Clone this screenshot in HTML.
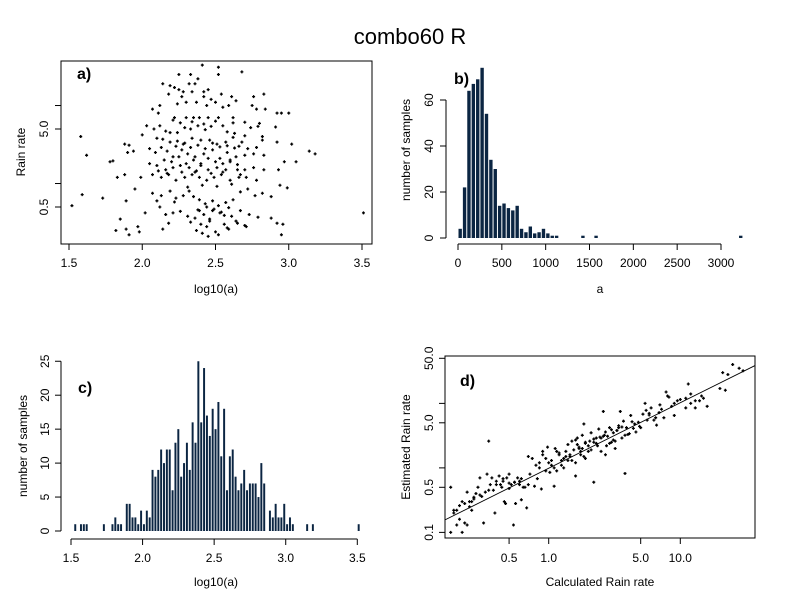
<!DOCTYPE html>
<html><head><meta charset="utf-8"><style>
html,body{margin:0;padding:0;background:#fff;}
svg{display:block;font-family:"Liberation Sans",sans-serif;}
</style></head><body>
<svg id="chart" width="792" height="611" viewBox="0 0 792 611">
<text x="410" y="44" font-size="22" text-anchor="middle">combo60 R</text>
</svg>
<script>
// Panel a: scatter log10(a) vs rain rate
const scatterALog = [1.52,1.85,1.82,1.89,1.91,1.97,2.02,2.16,2.21,2.26,2.31,2.33,2.38,2.40,2.42,2.44,2.46,2.48,2.50,2.53,2.56,2.58,2.61,2.64,2.67,2.70,2.73,2.79,2.88,2.92,2.96,2.95,3.51,2.14,2.18,2.37,2.41,2.45,2.52,2.59,2.65,2.71,1.98,
1.59,1.73,1.89,1.95,2.07,2.10,2.13,2.19,2.23,2.28,2.32,2.35,2.39,2.43,2.48,2.52,2.57,2.62,2.67,2.72,2.77,2.82,2.88,2.94,2.99,2.12,2.22,
1.78,1.80,2.05,2.10,2.16,2.21,2.26,2.32,2.36,2.40,2.45,2.51,2.55,2.60,2.65,2.70,2.76,2.83,2.93,2.97,3.05,1.88,1.83,1.99,2.07,2.13,2.18,2.23,2.29,2.34,2.39,2.44,2.49,2.54,2.60,2.66,2.71,2.78,
2.03,2.08,2.12,2.16,2.19,2.24,2.29,2.33,2.38,2.43,2.47,2.55,2.58,2.63,2.70,2.74,2.79,2.82,2.91,1.58,2.00,2.10,2.14,2.19,2.24,2.29,2.34,2.40,2.46,2.51,2.57,2.62,2.66,2.72,2.78,2.82,2.92,3.02,1.88,1.91,1.90,1.94,1.62,2.05,2.09,2.13,2.17,2.21,2.27,2.31,2.36,2.42,2.48,2.53,2.58,2.64,2.70,2.76,2.83,3.14,3.18,
2.41,2.52,2.68,2.25,2.33,2.52,2.38,2.14,2.19,2.22,2.32,2.36,2.25,2.28,2.34,2.42,2.45,2.54,2.61,2.76,2.83,2.18,2.27,2.42,2.50,2.37,2.12,2.44,2.59,2.75,2.78,2.84,2.07,2.11,2.22,2.30,2.35,2.39,2.45,2.52,2.62,2.92,2.95,3.00,
2.15,2.20,2.25,2.30,2.35,2.40,2.45,2.50,2.55,2.60,2.65,2.23,2.28,2.33,2.38,2.43,2.48,2.53,2.58,2.63,2.68,2.11,2.17,2.27,2.37,2.47,2.57,2.67,2.31,2.41,2.51,2.61,2.39,2.44,2.49,2.54,2.59,2.36,2.46,2.56,2.26,2.21,2.34,2.42,2.50,2.62,2.70,2.80,2.24,2.30,2.47,2.55,2.64];
const scatterARain = [0.52,0.35,0.25,0.26,0.22,0.28,0.42,0.4,0.42,0.44,0.38,0.32,0.46,0.3,0.4,0.28,0.35,0.45,0.24,0.42,0.3,0.27,0.38,0.33,0.45,0.29,0.4,0.37,0.36,0.31,0.3,0.22,0.42,0.26,0.31,0.25,0.23,0.21,0.22,0.26,0.31,0.28,0.24,
0.72,0.65,0.6,0.85,0.75,0.6,0.7,0.8,0.65,0.7,0.8,0.68,0.62,0.55,0.6,0.52,0.57,0.62,0.78,0.85,0.7,0.75,0.68,0.95,0.88,0.5,0.58,
1.9,1.95,1.8,1.7,1.5,1.6,1.7,1.6,1.4,1.8,1.5,1.6,1.4,1.9,1.5,1.5,1.6,1.5,1.5,1.9,1.9,1.3,1.2,1.2,1.3,1.2,1.3,1.1,1.2,1.3,1.2,1.1,1.2,1.3,1.1,1.2,1.2,1.1,
5.5,5,5.5,4.7,4.5,4.5,5.2,5,5.5,4.9,5.4,5.5,4.6,4.4,4.1,5.2,5.4,4.0,5.3,4.0,4.2,3.8,3.7,3.4,3.5,3.3,3.8,3.6,3.6,3.2,3.4,3.9,3.0,2.8,2.9,3.6,3.4,3.2,3.2,3.1,2.5,2.6,2.3,2.8,2.5,2.9,2.6,2.2,2.7,2.4,2.2,2.4,2.7,2.1,2.5,2.2,2.3,2.4,2.3,2.6,2.4,
33,31,27,25,25,25,22,19,18,17,19,19,16,15,15,15,16,14,13,13,14,14,13,13,11,11,10,10,10,10,9,9,9,8,7,7,7,7,7,7,7,8,8,8,
2.0,1.9,2.2,1.8,2.0,1.7,2.1,1.9,1.8,2.0,1.75,3.0,3.2,2.9,3.1,2.8,3.3,2.95,3.05,2.85,3.4,1.45,1.35,1.4,1.45,1.35,1.5,1.3,0.9,0.95,0.92,0.98,0.45,0.5,0.47,0.43,0.49,0.36,0.33,0.39,6.0,6.5,6.2,5.8,6.3,6.0,6.1,5.9,10.5,11,12,9.5,11.5];
// Panel b: histogram of a (bins of 50)
const histABinStart = [0,50,100,150,200,250,300,350,400,450,500,550,600,650,700,750,800,850,900,950,1000,1050,1100,1400,1550,3200];
const histACounts = [4,22,64,67,69,74,54,34,30,14,15,13,12,14,4,2.5,5,2,2.5,4,2,1,1,1,1,1];
const histATicks = [0,500,1000,1500,2000,2500,3000];
const histAYTicks = [0,20,40,60];
// Panel c: histogram of log10(a), bin width 0.02
const histLogBinIndex = [1,3,4,5,11,14,15,16,17,19,20,21,22,23,24,25,26,27,28,29,30,31,32,33,34,35,36,37,38,39,40,41,42,43,44,45,46,47,48,49,50,51,52,53,54,55,56,57,58,59,60,61,62,63,64,65,66,67,69,70,71,72,73,74,75,76,77,82,84,100];
const histLogCounts = [1,1,1,1,1,1,2,1,1,4,4,2,2,1,3,1,3,2,9,8,9,12,10,12,12,6,13,15,8,10,13,9,16,13,25,16,24,17,14,18,15,19,11,18,6,11,12,8,6,7,9,6,7,7,7,5,10,7,3,2,4,2,2,4,1,2,1,1,1,1];
const logTicks = [1.5,2.0,2.5,3.0,3.5];
const histLogYTicks = [0,5,10,15,20,25];
// Panel d: calculated vs estimated rain rate
const calcRain = [0.18,0.19,0.2,0.21,0.22,0.23,0.24,0.18,0.19,0.2,0.21,0.22,0.23,0.24,0.25,0.26,0.27,0.28,0.29,0.3,0.31,0.33,0.34,0.32,0.35,0.36,0.37,0.38,0.39,0.4,0.42,0.43,0.44,0.45,0.46,0.47,0.48,0.5,0.52,0.54,0.55,0.56,0.58,0.6,0.62,0.64,0.66,0.68,0.7,0.72,0.75,0.78,0.8,0.82,0.85,0.88,0.9,0.95,1.0,1.02,1.05,1.1,1.12,1.15,1.2,1.25,1.3,1.35,1.4,1.45,1.5,1.55,1.6,1.65,1.7,1.75,1.8,1.85,1.9,2.0,2.1,2.2,2.3,2.4,2.5,2.6,2.7,2.8,2.9,3.0,3.1,3.2,3.3,3.4,3.5,3.6,3.7,3.8,3.9,4.0,4.2,4.4,4.6,4.8,5.0,5.2,5.4,5.6,5.8,6.0,6.3,6.6,6.9,7.2,7.5,7.8,8.2,8.6,9.0,9.5,10,11,11.5,12,13,14,15,16,20,21,22,25,28,30,23,1.3,1.6,2.0,2.5,1.1,1.9,4.5,3.2,2.2,2.7,5.5,1.8,0.95,1.4,3.0,6.5,12,0.6,0.5,0.26,
1.2,1.35,1.5,1.7,1.9,2.1,2.3,2.6,2.9,3.3,1.25,1.45,1.65,1.85,2.05,2.35,2.65,3.1,3.6,4.1,0.9,1.05,0.85,0.98,1.15,1.6,1.75,2.2,2.45,2.75,3.4,3.8,4.3,4.9,5.8,0.4,0.45,0.5,0.55,0.3,0.35,0.62,0.7,0.27,0.25,7.0,8.0,9.0,11,13,14.5];
const estRain = [0.1,0.2,0.13,0.16,0.1,0.14,0.13,0.5,0.22,0.22,0.26,0.3,0.28,0.42,0.25,0.3,0.35,0.4,0.5,0.7,0.36,0.42,0.8,0.14,2.6,0.55,0.7,0.45,0.2,0.62,0.75,0.55,0.5,0.68,0.3,0.28,0.7,0.8,0.55,0.13,0.6,0.28,0.7,0.62,0.32,0.5,0.5,0.24,1.5,0.8,1.4,0.52,1.1,0.68,1.2,0.47,1.8,1.4,1.2,0.85,1.1,0.52,2.0,0.9,1.6,1.3,1.0,1.8,2.3,1.5,2.6,1.9,0.75,2.9,2.1,1.6,3.2,4.8,2.5,1.8,3.5,0.6,2.4,4.0,2.9,7.5,1.6,3.1,4.2,2.5,3.5,2.0,3.8,4.5,7.5,2.9,5.3,0.82,4.2,3.3,6.5,4.1,3.6,5.1,4.2,6.8,10,5.5,7.0,8.5,5.5,4.6,7.2,8.1,6.0,15,12.5,9.0,6.5,11,11.5,8.5,20,10,8.5,11,12,9,17,30,16,40,35,32,28,1.4,1.2,2.2,1.8,1.0,1.4,4.8,2.6,2.8,3.6,7.8,2.0,0.9,1.3,3.9,6.0,14,0.55,0.48,0.22,
1.7,1.5,1.3,2.0,2.4,1.9,2.9,3.1,2.4,3.8,1.1,1.6,2.3,1.5,2.6,2.2,3.2,2.7,4.3,3.4,1.6,1.3,1.0,2.1,1.8,2.7,1.8,2.5,3.0,2.2,4.2,3.2,5.2,4.4,6.6,0.55,0.62,0.58,0.6,0.38,0.45,0.68,0.55,0.33,0.3,9.5,13,10,12,11,13];
const fitIntercept = -0.006;
const fitSlope = 1.016;
const rainTicks = [0.5,1,5,10];
const rainTickLabels = ["0.5","","5.0",""];
const dXTicks = [0.5,1,5,10];
const dXLabels = ["0.5","1.0","5.0","10.0"];
const dYTicks = [0.1,0.5,1,5,10,50];
const dYLabels = ["0.1","0.5","","5.0","","50.0"];

const NS = "http://www.w3.org/2000/svg";
const svg = document.getElementById('chart');
function mk(tag, attrs, parent) {
  const e = document.createElementNS(NS, tag);
  for (const k in attrs) e.setAttribute(k, attrs[k]);
  (parent || svg).appendChild(e);
  return e;
}
function txt(x, y, s, size, rot, parent) {
  const t = mk('text', {x: x, y: y, 'font-size': size, 'text-anchor': 'middle', fill: '#000'}, parent);
  if (rot) t.setAttribute('transform', 'rotate(-90 ' + x + ' ' + y + ')');
  t.textContent = s;
  return t;
}
function plus(x, y, g) {
  const p = mk('path', {d: 'M' + (x - 1.5) + ' ' + y + 'h3M' + x + ' ' + (y - 1.5) + 'v3', stroke: '#000', 'stroke-width': 1.3}, g);
  return p;
}
const L = Math.log10;

// ---------- Panel a ----------
const ga = mk('g', {});


const ax = v => 69 + (v - 1.5) * 146.5;
const ay = v => 207 - (L(v) - L(0.5)) * 78;
const boxA = mk('rect', {x: 61, y: 61, width: 311, height: 183, fill: 'none', stroke: '#000'}, ga);


scatterALog.forEach((v, i) => {
  const p = plus(ax(v), ay(scatterARain[i]), ga);
  
  
});
logTicks.forEach(v => {
  mk('line', {x1: ax(v), x2: ax(v), y1: 244, y2: 250, stroke: '#000'}, ga);
  const t = txt(ax(v), 267, v.toFixed(1), 12, false, ga);
  
  
});
mk('line', {x1: ax(1.5), x2: ax(3.5), y1: 244, y2: 244, stroke: '#000'}, ga);
rainTicks.forEach((v, i) => {
  mk('line', {x1: 55, x2: 61, y1: ay(v), y2: ay(v), stroke: '#000'}, ga);
  if (rainTickLabels[i]) {
    const t = txt(48, ay(v), rainTickLabels[i], 12, true, ga);
    
    
  }
});
const xla = txt(216, 293, 'log10(a)', 12, false, ga);


const yla = txt(25, 152, 'Rain rate', 12, true, ga);


const pa = mk('text', {x: 77, y: 79, 'font-size': 16, 'font-weight': 'bold'}, ga);
pa.textContent = 'a)';



// ---------- Panel b ----------
const gb = mk('g', {});


const bx = v => 458 + v * (263 / 3000);
const by = v => 238 - v * 2.3;
histABinStart.forEach((v, i) => {
  const r = mk('rect', {x: bx(v) + 0.5, y: by(histACounts[i]), width: bx(50) - bx(0) - 1, height: histACounts[i] * 2.3, fill: '#0b2542'}, gb);
  
  
});
mk('line', {x1: bx(0), x2: bx(3000), y1: 244, y2: 244, stroke: '#000'}, gb);
histATicks.forEach(v => {
  mk('line', {x1: bx(v), x2: bx(v), y1: 244, y2: 250, stroke: '#000'}, gb);
  const t = txt(bx(v), 267, String(v), 12, false, gb);
  
  
});
mk('line', {x1: 446, x2: 446, y1: by(0), y2: by(60), stroke: '#000'}, gb);
histAYTicks.forEach(v => {
  mk('line', {x1: 440, x2: 446, y1: by(v), y2: by(v), stroke: '#000'}, gb);
  const t = txt(433, by(v), String(v), 12, true, gb);
  
  
});
const xlb = txt(600, 293, 'a', 12, false, gb);


const ylb = txt(410, 150, 'number of samples', 12, true, gb);


const pb = mk('text', {x: 454, y: 84, 'font-size': 16, 'font-weight': 'bold'}, gb);
pb.textContent = 'b)';



// ---------- Panel c ----------
const gc = mk('g', {});


const cx = v => 71 + (v - 1.5) * 143.15;
const cy = v => 531 - v * 6.79;
histLogBinIndex.forEach((b, i) => {
  const x0 = cx(1.5 + b * 0.02);
  const r = mk('rect', {x: x0 + 0.4, y: cy(histLogCounts[i]), width: cx(1.52) - cx(1.5) - 0.9, height: histLogCounts[i] * 6.79, fill: '#0b2542'}, gc);
  
  
});
mk('line', {x1: cx(1.5), x2: cx(3.5), y1: 539, y2: 539, stroke: '#000'}, gc);
logTicks.forEach(v => {
  mk('line', {x1: cx(v), x2: cx(v), y1: 539, y2: 545, stroke: '#000'}, gc);
  const t = txt(cx(v), 562, v.toFixed(1), 12, false, gc);
  
  
});
mk('line', {x1: 61, x2: 61, y1: cy(0), y2: cy(25), stroke: '#000'}, gc);
histLogYTicks.forEach(v => {
  mk('line', {x1: 55, x2: 61, y1: cy(v), y2: cy(v), stroke: '#000'}, gc);
  const t = txt(49, cy(v), String(v), 12, true, gc);
  
  
});
const xlc = txt(216, 586, 'log10(a)', 12, false, gc);


const ylc = txt(27, 446, 'number of samples', 12, true, gc);


const pc = mk('text', {x: 78, y: 393, 'font-size': 16, 'font-weight': 'bold'}, gc);
pc.textContent = 'c)';



// ---------- Panel d ----------
const gd = mk('g', {});


const dx = v => 548.7 + L(v) * 131.6;
const dy = v => 487.3 - (L(v) - L(0.5)) * 64.5;
const boxD = mk('rect', {x: 445, y: 356, width: 310, height: 182, fill: 'none', stroke: '#000'}, gd);


calcRain.forEach((v, i) => {
  const p = plus(dx(v), dy(estRain[i]), gd);
  
  
});
const xa = Math.pow(10, (445 - 548.7) / 131.6), xb = Math.pow(10, (755 - 548.7) / 131.6);
const fitY = x => Math.pow(10, fitIntercept + fitSlope * L(x));
const fl = mk('line', {x1: dx(xa), y1: dy(fitY(xa)), x2: dx(xb), y2: dy(fitY(xb)), stroke: '#000', 'stroke-width': 0.9}, gd);


dXTicks.forEach((v, i) => {
  mk('line', {x1: dx(v), x2: dx(v), y1: 538, y2: 544, stroke: '#000'}, gd);
  const t = txt(dx(v), 562, dXLabels[i], 12, false, gd);
  
  
});
dYTicks.forEach((v, i) => {
  mk('line', {x1: 439, x2: 445, y1: dy(v), y2: dy(v), stroke: '#000'}, gd);
  if (dYLabels[i]) {
    const t = txt(433, dy(v), dYLabels[i], 12, true, gd);
    
    
  }
});
const xld = txt(600, 586, 'Calculated Rain rate', 12, false, gd);


const yld = txt(410, 447, 'Estimated Rain rate', 12, true, gd);


const pd = mk('text', {x: 460, y: 386, 'font-size': 16, 'font-weight': 'bold'}, gd);
pd.textContent = 'd)';


</script>
</body></html>
